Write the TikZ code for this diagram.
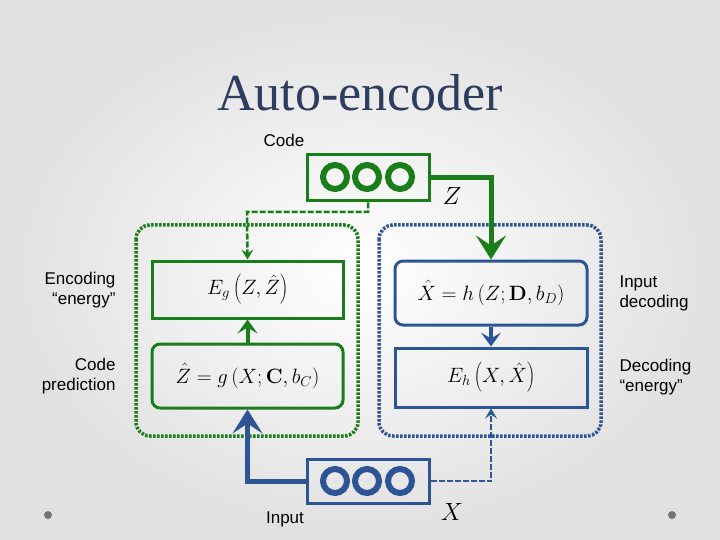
\documentclass[tikz,border=0pt]{standalone}
\usepackage[no-math]{fontspec}
\setmainfont{Liberation Sans}
\newfontfamily\titlefont{Liberation Serif}
\usetikzlibrary{arrows.meta}
\definecolor{grn}{RGB}{25,125,25}
\definecolor{blu}{RGB}{45,85,150}
\definecolor{ttl}{RGB}{45,60,95}
\begin{document}
\begin{tikzpicture}[x=1pt,y=-1pt,
  gbox/.style={draw=grn,line width=3pt},
  bbox/.style={draw=blu,line width=3pt},
  eq/.style={font=\fontsize{22}{24}\selectfont},
  cont/.style={line width=3.5pt,dash pattern=on 2.5pt off 1.5pt,rounded corners=14pt},
  lbl/.style={font=\fontsize{17}{20}\selectfont,align=center},
  thick arrow/.style={line width=5pt,-{Stealth[length=24pt,width=30pt,inset=10pt]}},
  thin arrow/.style={line width=4pt,-{Stealth[length=14pt,width=20pt,inset=6pt]}},
  dash arrow/.style={line width=2.5pt,dash pattern=on 6pt off 2pt,-{Stealth[length=10pt,width=12pt,inset=4pt]}},
  circ/.style={line width=6pt}]
\shade[inner color=white,outer color=black!12] (0,0) rectangle (720,540);
\fill[black!55] (48,515) circle (4) (672,515) circle (4);
\node[font=\titlefont\fontsize{52}{56}\selectfont,text=ttl] (title) at (360,93) {Auto-encoder};
% containers
\draw[cont,draw=grn] (136,225) rectangle (358,436);
\draw[cont,draw=blu] (379,225) rectangle (601,436);
% code and input vectors
\node[gbox,minimum width=122,minimum height=46] (code) at (368,178) {};
\draw[grn,circ] (335,177) circle[radius=12] (367,177) circle[radius=12] (400,177) circle[radius=12];
\node[bbox,minimum width=122,minimum height=44] (inp) at (368,481) {};
\draw[blu,circ] (335,481) circle[radius=12] (367,481) circle[radius=12] (400,481) circle[radius=12];
% boxes
\node[gbox,eq,minimum width=191,minimum height=57] (eg) at (247.5,289.5) {$E_g\left(Z,\hat Z\right)$};
\node[gbox,eq,rounded corners=8pt,minimum width=191,minimum height=64] (zh) at (247.5,376) {$\hat Z = g\left(X;\mathbf{C},b_C\right)$};
\node[bbox,eq,rounded corners=8pt,minimum width=192,minimum height=64] (xh) at (491,293) {$\hat X = h\left(Z;\mathbf{D},b_D\right)$};
\node[bbox,eq,minimum width=192,minimum height=59] (eh) at (491,377.5) {$E_h\left(X,\hat X\right)$};
% connectors
\draw[grn,thick arrow] (code.east) -| (xh.north);
\draw[grn,dash arrow] (code.south) |- (247,212) -- (eg.north);
\draw[grn,thin arrow] (zh.north) -- (eg.south);
\draw[blu,thick arrow] (inp.west) -| (zh.south);
\draw[blu,thin arrow] (xh.south) -- (eh.north);
\draw[blu,dash arrow] (inp.east) -| (eh.south);
% labels
\node[font=\fontsize{26}{28}\selectfont] (zl) at (452,196) {$Z$};
\node[font=\fontsize{26}{28}\selectfont] (xl) at (452,512) {$X$};
\node[lbl] (codel) at (284,140) {Code};
\node[lbl] (inpl) at (285,519) {Input};
\node[lbl,anchor=east,align=right] (encl) at (119,290) {Encoding\\``energy''};
\node[lbl,anchor=east,align=right] (cpl) at (119,376) {Code\\prediction};
\node[lbl,anchor=west,align=left] (idl) at (616,293) {Input\\decoding};
\node[lbl,anchor=west,align=left] (del) at (616,377) {Decoding\\``energy''};
\end{tikzpicture}
\end{document}
